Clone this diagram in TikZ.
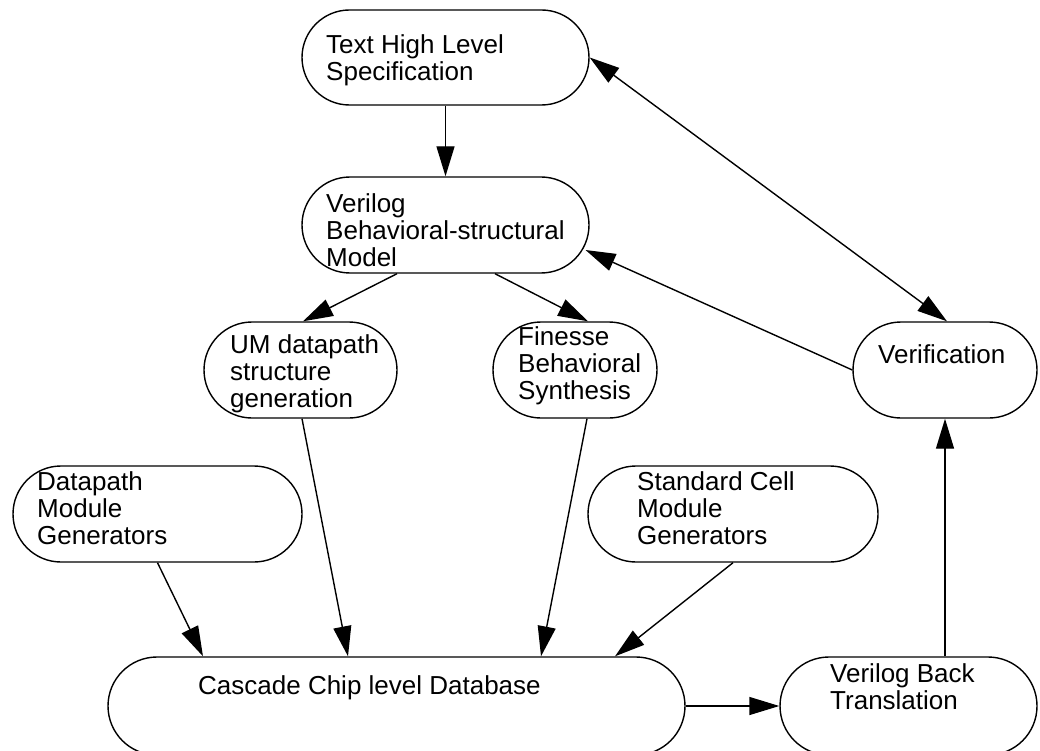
\documentclass[tikz,border=0pt]{standalone}
\usepackage{fontspec}
\setmainfont{Liberation Sans}
\usetikzlibrary{arrows.meta,shapes.misc}
\begin{document}
\begin{tikzpicture}[x=1pt,y=-1pt,
  box/.style={draw, line width=1.4pt, rounded rectangle, inner sep=0pt},
  txt/.style={anchor=north west, inner sep=0pt, align=left, font=\fontsize{26}{27}\selectfont},
  arr/.style={line width=1.4pt, -{Triangle[length=30pt,width=18pt]}},
  darr/.style={line width=1.4pt, {Triangle[length=30pt,width=18pt]}-{Triangle[length=30pt,width=18pt]}}]
\useasboundingbox (0,0) rectangle (1040,751);
\clip (0,0) rectangle (1040,751);
% boxes
\node[box, minimum width=287pt, minimum height=95pt] (spec) at (445.5,57.5) {};
\node[box, minimum width=287pt, minimum height=96pt] (model) at (445.5,225) {};
\node[box, minimum width=193pt, minimum height=96pt] (um) at (300.5,370) {};
\node[box, minimum width=164pt, minimum height=96pt] (fin) at (575,370) {};
\node[box, minimum width=184pt, minimum height=96pt] (ver) at (945,370) {};
\node[box, minimum width=289pt, minimum height=96pt] (dp) at (157.5,514) {};
\node[box, minimum width=290pt, minimum height=96pt] (sc) at (733,514) {};
\node[box, minimum width=577pt, minimum height=98pt] (cas) at (396.5,706) {};
\node[box, minimum width=257pt, minimum height=98pt] (vbt) at (908.5,706) {};
% texts
\node[txt] (specT) at (326,34.3) {Text High Level\\Specification};
\node[txt] (modelT) at (326,193.3) {Verilog\\Behavioral-structural\\Model};
\node[txt] (umT) at (230,334.3) {UM datapath\\structure\\generation};
\node[txt] (finT) at (518,326.3) {Finesse\\Behavioral\\Synthesis};
\node[txt] (verT) at (878,344.3) {Verification};
\node[txt] (dpT) at (37,471.3) {Datapath\\Module\\Generators};
\node[txt] (scT) at (637,471.3) {Standard Cell\\Module\\Generators};
\node[txt] (casT) at (198,675.3) {Cascade Chip level Database};
\node[txt] (vbtT) at (830,663.3) {Verilog Back\\Translation};
% connectors
\draw[arr] (spec.south) -- (model.north);
\draw[arr] ([xshift=-48.5pt]model.south) -- ([xshift=2.5pt]um.north);
\draw[arr] ([xshift=49.5pt]model.south) -- ([xshift=13pt]fin.north);
\draw[darr] (spec.east) -- ([xshift=2pt]ver.north);
\draw[arr] (ver.west) -- ([shift={(140pt,-25pt)}]model.center);
\draw[arr] (ver.south |- vbt.north) -- (ver.south);
\draw[arr] (cas.east) -- (vbt.west);
\draw[arr] (dp.south) -- ([xshift=-193.5pt]cas.north);
\draw[arr] ([xshift=1.5pt]um.south) -- ([xshift=-48.5pt]cas.north);
\draw[arr] ([xshift=12pt]fin.south) -- ([xshift=144.5pt]cas.north);
\draw[arr] (sc.south) -- ([xshift=218.5pt]cas.north);
\end{tikzpicture}
\end{document}
